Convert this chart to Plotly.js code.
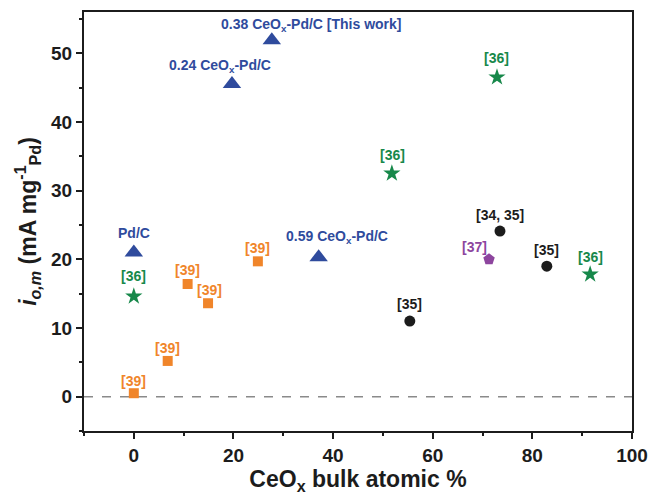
<!DOCTYPE html>
<html>
<head>
<meta charset="utf-8">
<script src="https://cdn.plot.ly/plotly-3.0.1.min.js"></script>
<style>html,body{margin:0;padding:0;background:#fff;}#chart{width:651px;height:496px;}</style>
</head>
<body>
<div id="chart"></div>
<script>
// Blue triangles: CeOx-Pd/C (this work)
const thisWorkX = [0, 19.7, 27.7, 37.1];
const thisWorkY = [21.0, 45.5, 51.9, 20.3];
const thisWorkLabels = ['Pd/C', '0.24 CeO<sub>x</sub>-Pd/C', '0.38 CeO<sub>x</sub>-Pd/C [This work]', '0.59 CeO<sub>x</sub>-Pd/C'];

// Green stars: ref [36]
const ref36X = [0, 51.8, 72.9, 91.6];
const ref36Y = [14.6, 32.5, 46.5, 17.8];
const ref36Labels = ['[36]', '[36]', '[36]', '[36]'];

// Orange squares: ref [39]
const ref39X = [0, 6.8, 10.8, 14.9, 24.9];
const ref39Y = [0.5, 5.2, 16.4, 13.6, 19.7];
const ref39Labels = ['[39]', '[39]', '[39]', '[39]', '[39]'];

// Black circles: refs [34, 35], [35]
const ref35X = [55.4, 73.5, 82.9];
const ref35Y = [11.0, 24.1, 19.0];
const ref35Labels = ['[35]', '[34, 35]', '[35]'];

// Purple pentagon: ref [37]
const ref37X = [71.3];
const ref37Y = [20.0];
const ref37Labels = ['[37]'];

const xTickVals = [0, 20, 40, 60, 80, 100];
const yTickVals = [0, 10, 20, 30, 40, 50];

const cBlue = '#2f4b9d', cGreen = '#17884a', cOrange = '#f0852a', cBlack = '#1c1c1c', cPurple = '#8d459e';

function tr(x, y, sym, size, color) {
  return {x: x, y: y, type: 'scatter', mode: 'markers', hoverinfo: 'skip',
    marker: {symbol: sym, size: size, color: color, line: {width: 0}}, showlegend: false, cliponaxis: false};
}

const data = [
  tr(ref39X, ref39Y, 'square', 10, cOrange),
  tr(thisWorkX, thisWorkY, 'triangle-up', 16, cBlue),
  tr(ref36X, ref36Y, 'star', 13, cGreen),
  tr(ref35X, ref35Y, 'circle', 11, cBlack),
  tr(ref37X, ref37Y, 'pentagon', 12, cPurple)
];

// label offsets (pixels) – layout only
const blueShift = [[0, 19], [-12, 18], [40, 15], [18, 20]];
const greenShift = [[0, 20], [1, 18], [0, 19], [0, 17]];
const orangeShift = [[0, 12], [0, 13], [0, 14], [1, 13], [0, 13]];
const blackShift = [[0, 17], [0, 16], [0, 16]];
const purpleShift = [[-15, 12]];

const annotations = [];
function addLabels(xs, ys, labels, shifts, color) {
  for (let i = 0; i < xs.length; i++) {
    annotations.push({x: xs[i], y: ys[i], xref: 'x', yref: 'y', text: '<b>' + labels[i] + '</b>',
      showarrow: false, xshift: shifts[i][0], yshift: shifts[i][1],
      font: {family: 'Liberation Sans, Arial, sans-serif', size: 14, color: color}});
  }
}
addLabels(thisWorkX, thisWorkY, thisWorkLabels, blueShift, cBlue);
addLabels(ref36X, ref36Y, ref36Labels, greenShift, cGreen);
addLabels(ref39X, ref39Y, ref39Labels, orangeShift, cOrange);
addLabels(ref35X, ref35Y, ref35Labels, blackShift, cBlack);
addLabels(ref37X, ref37Y, ref37Labels, purpleShift, cPurple);

const axisCommon = {
  showgrid: false, zeroline: false, showline: true, linecolor: '#1c1c1c', linewidth: 2, mirror: true,
  ticks: 'outside', ticklen: 6, tickwidth: 2, tickcolor: '#1c1c1c',
  tickfont: {family: 'Liberation Sans, Arial, sans-serif', size: 19, color: '#1c1c1c', weight: 'bold'}
};

const layout = {
  width: 651, height: 496,
  margin: {l: 84, r: 19, t: 12, b: 65},
  paper_bgcolor: '#ffffff', plot_bgcolor: '#ffffff',
  font: {family: 'Liberation Sans, Arial, sans-serif'},
  xaxis: Object.assign({}, axisCommon, {
    range: [-10, 100], tickvals: xTickVals,
    minor: {dtick: 10, tick0: 0, ticks: 'outside', ticklen: 3, tickwidth: 2, tickcolor: '#1c1c1c'},
    title: {text: '<b>CeO<sub>x</sub> bulk atomic %</b>', standoff: 5,
      font: {family: 'Liberation Sans, Arial, sans-serif', size: 23, color: '#1c1c1c'}}
  }),
  yaxis: Object.assign({}, axisCommon, {
    range: [-5, 56], tickvals: yTickVals,
    minor: {dtick: 5, tick0: 0, ticks: 'outside', ticklen: 3, tickwidth: 2, tickcolor: '#1c1c1c'},
    title: {text: '<b><i>i<sub>o,m</sub></i> (mA mg<sup>-1</sup><sub>Pd</sub>)</b>', standoff: 8,
      font: {family: 'Liberation Sans, Arial, sans-serif', size: 23, color: '#1c1c1c'}}
  }),
  shapes: [{type: 'line', xref: 'paper', x0: 0, x1: 1, yref: 'y', y0: 0, y1: 0,
    line: {color: '#8a8a8a', width: 1.5, dash: 'dash'}, layer: 'below'}],
  annotations: annotations
};

Plotly.newPlot('chart', data, layout, {displayModeBar: false, staticPlot: true});
</script>
</body>
</html>
